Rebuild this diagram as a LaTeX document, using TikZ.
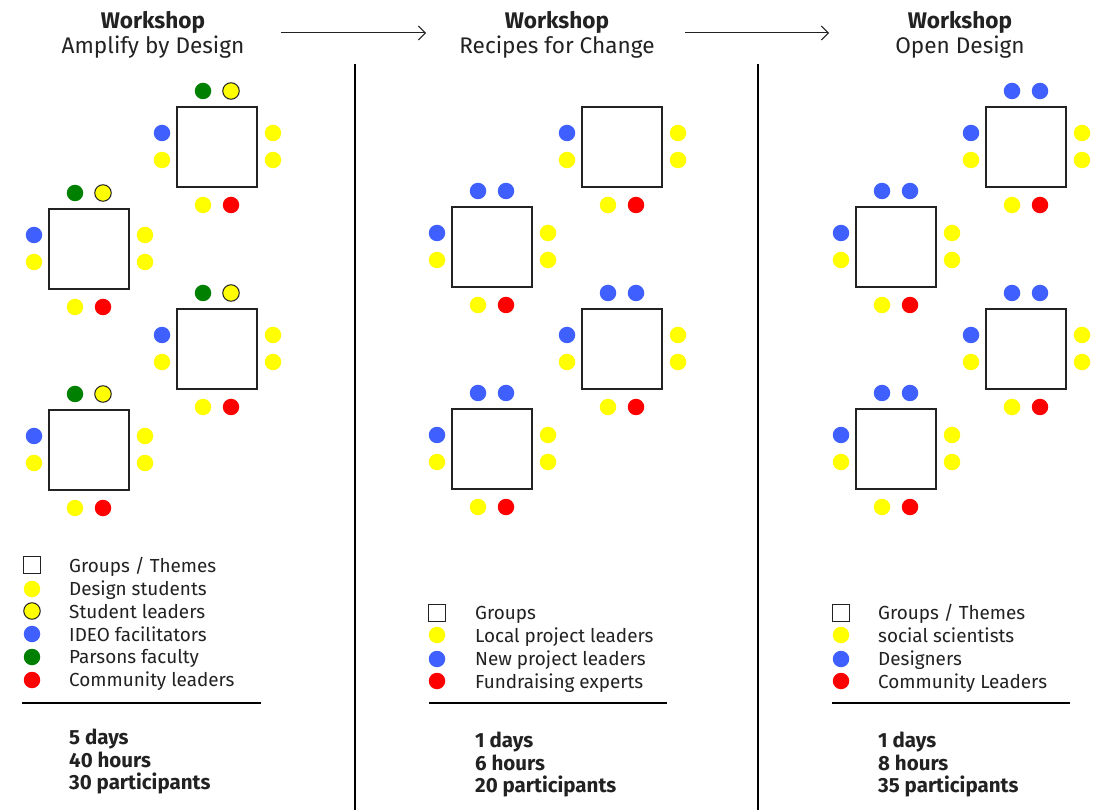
\documentclass[tikz,border=0pt]{standalone}
\usepackage{fontspec}
\setmainfont{Fira Sans}
\usetikzlibrary{arrows.meta}
\definecolor{dyellow}{HTML}{FFFF00}
\definecolor{dblue}{HTML}{3F5FFF}
\definecolor{dgreen}{HTML}{008000}
\definecolor{dred}{HTML}{FF0000}
\definecolor{ink}{HTML}{222222}
\tikzset{
  tbl/.style={draw=ink, line width=1.3pt, minimum size=80pt, inner sep=0pt, fill=white},
  dot/.style={circle, minimum size=16.5pt, inner sep=0pt},
  Y/.style={dot, fill=dyellow},
  YL/.style={dot, fill=dyellow, draw=ink, line width=1pt},
  B/.style={dot, fill=dblue},
  G/.style={dot, fill=dgreen},
  R/.style={dot, fill=dred},
  legsq/.style={draw=ink, line width=1pt, minimum size=17pt, inner sep=0pt},
  hdr/.style={text=ink, font=\fontsize{22.6}{25}\selectfont, align=center, anchor=base, inner sep=0pt},
  legtxt/.style={text=ink, font=\fontsize{18.9}{22}\selectfont, anchor=base west, inner sep=0pt},
  foot/.style={text=ink, font=\bfseries\fontsize{20.5}{22}\selectfont, anchor=base west, inner sep=0pt},
  sep/.style={draw=black, line width=2pt},
  rule/.style={draw=black, line width=2pt},
  flow/.style={draw=ink, line width=1pt, -{Straight Barb[length=7pt,width=14pt]}}
}
% #1 name, #2 cx, #3 cy, #4 left-top, #5 left-bottom, #6 bottom-left, #7 bottom-right
\newcommand\tablegrp[7]{%
  \node[tbl] (#1) at (#2,#3) {};
  \node[#4] (#1l1) at ({#2-55},{#3-14}) {};
  \node[#5] (#1l2) at ({#2-55},{#3+13}) {};
  \node[Y] (#1r1) at ({#2+56},{#3-14}) {};
  \node[Y] (#1r2) at ({#2+56},{#3+13}) {};
  \node[#6] (#1b1) at ({#2-14},{#3+58}) {};
  \node[#7] (#1b2) at ({#2+14},{#3+58}) {};
}
% #1 name, #2 cx, #3 cy, #4 top-left, #5 top-right
\newcommand\topdots[5]{%
  \node[#4] (#1t1) at ({#2-14},{#3-56}) {};
  \node[#5] (#1t2) at ({#2+14},{#3-56}) {};
}
\begin{document}
\begin{tikzpicture}[x=1pt,y=-1pt]
\useasboundingbox[fill=white] (0,0) rectangle (1104,810);

% headers
\node[hdr] (h1a) at (153,29) {\bfseries Workshop};
\node[hdr] (h1b) at (153,54) {Amplify by Design};
\node[hdr] (h2a) at (557,29) {\bfseries Workshop};
\node[hdr] (h2b) at (557,54) {Recipes for Change};
\node[hdr] (h3a) at (960,29) {\bfseries Workshop};
\node[hdr] (h3b) at (960,54) {Open Design};

% arrows
\coordinate (a1s) at (281,33);
\coordinate (a1e) at (426,33);
\coordinate (a2s) at (685,33);
\coordinate (a2e) at (829,33);
\draw[flow] (a1s) -- (a1e);
\draw[flow] (a2s) -- (a2e);

% separators
\coordinate (s1t) at (355,64);
\coordinate (s1b) at (355,812);
\coordinate (s2t) at (758,64);
\coordinate (s2b) at (758,812);
\draw[sep] (s1t) -- (s1b);
\draw[sep] (s2t) -- (s2b);

% column 1
\tablegrp{c1a}{217}{147}{B}{Y}{Y}{R}
\topdots{c1a}{217}{147}{G}{YL}
\tablegrp{c1b}{89}{249}{B}{Y}{Y}{R}
\topdots{c1b}{89}{249}{G}{YL}
\tablegrp{c1c}{217}{349}{B}{Y}{Y}{R}
\topdots{c1c}{217}{349}{G}{YL}
\tablegrp{c1d}{89}{450}{B}{Y}{Y}{R}
\topdots{c1d}{89}{450}{G}{YL}

% column 2
\tablegrp{c2a}{622}{147}{B}{Y}{Y}{R}
\tablegrp{c2b}{492}{247}{B}{Y}{Y}{R}
\topdots{c2b}{492}{247}{B}{B}
\tablegrp{c2c}{622}{349}{B}{Y}{Y}{R}
\topdots{c2c}{622}{349}{B}{B}
\tablegrp{c2d}{492}{449}{B}{Y}{Y}{R}
\topdots{c2d}{492}{449}{B}{B}

% column 3
\tablegrp{c3a}{1026}{147}{B}{Y}{Y}{R}
\topdots{c3a}{1026}{147}{B}{B}
\tablegrp{c3b}{896}{247}{B}{Y}{Y}{R}
\topdots{c3b}{896}{247}{B}{B}
\tablegrp{c3c}{1026}{349}{B}{Y}{Y}{R}
\topdots{c3c}{1026}{349}{B}{B}
\tablegrp{c3d}{896}{449}{B}{Y}{Y}{R}
\topdots{c3d}{896}{449}{B}{B}

% legend 1
\node[legsq] (k1a) at (32,565) {};
\node[Y]  (k1b) at (32,589) {};
\node[YL] (k1c) at (32,611) {};
\node[B]  (k1d) at (32,634) {};
\node[G]  (k1e) at (32,657) {};
\node[R]  (k1f) at (32,680) {};
\node[legtxt] (t1a) at (69,572) {Groups / Themes};
\node[legtxt] (t1b) at (69,595) {Design students};
\node[legtxt] (t1c) at (69,618) {Student leaders};
\node[legtxt] (t1d) at (69,641) {IDEO facilitators};
\node[legtxt] (t1e) at (69,663) {Parsons faculty};
\node[legtxt] (t1f) at (69,686) {Community leaders};
\coordinate (r1s) at (22,703);
\coordinate (r1e) at (261,703);
\draw[rule] (r1s) -- (r1e);
\node[foot] (f1a) at (69,744) {5 days};
\node[foot] (f1b) at (69,767) {40 hours};
\node[foot] (f1c) at (69,789) {30 participants};

% legend 2
\node[legsq] (k2a) at (437,613) {};
\node[Y] (k2b) at (437,635) {};
\node[B] (k2c) at (437,659) {};
\node[R] (k2d) at (437,681) {};
\node[legtxt] (t2a) at (475,619) {Groups};
\node[legtxt] (t2b) at (475,642) {Local project leaders};
\node[legtxt] (t2c) at (475,665) {New project leaders};
\node[legtxt] (t2d) at (475,688) {Fundraising experts};
\coordinate (r2s) at (429,703);
\coordinate (r2e) at (667,703);
\draw[rule] (r2s) -- (r2e);
\node[foot] (f2a) at (475,747) {1 days};
\node[foot] (f2b) at (475,770) {6 hours};
\node[foot] (f2c) at (475,792) {20 participants};

% legend 3
\node[legsq] (k3a) at (841,613) {};
\node[Y] (k3b) at (841,635) {};
\node[B] (k3c) at (841,659) {};
\node[R] (k3d) at (841,681) {};
\node[legtxt] (t3a) at (878,619) {Groups / Themes};
\node[legtxt] (t3b) at (878,642) {social scientists};
\node[legtxt] (t3c) at (878,665) {Designers};
\node[legtxt] (t3d) at (878,688) {Community Leaders};
\coordinate (r3s) at (832,703);
\coordinate (r3e) at (1070,703);
\draw[rule] (r3s) -- (r3e);
\node[foot] (f3a) at (878,747) {1 days};
\node[foot] (f3b) at (878,770) {8 hours};
\node[foot] (f3c) at (878,792) {35 participants};
\end{tikzpicture}
\end{document}
